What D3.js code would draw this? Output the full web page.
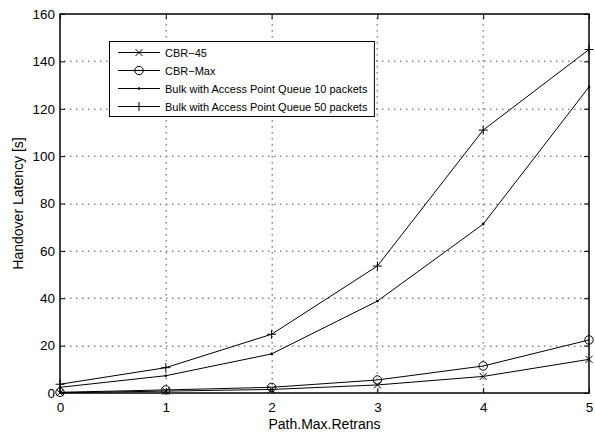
<!DOCTYPE html>
<html>
<head>
<meta charset="utf-8">
<script src="https://cdn.jsdelivr.net/npm/d3@7"></script>
<style>
  body { margin: 0; background: white; }
  text { font-family: "Liberation Sans", Arial, sans-serif; }
</style>
</head>
<body>
<div id="vizContainer"></div>
<script>
let w = 595;
let h = 433;

// data
let retrans = [0, 1, 2, 3, 4, 5];
let cbr45 = [0.1, 0.8, 1.5, 3.4, 7.0, 14.2];
let cbrMax = [0.3, 1.3, 2.4, 5.5, 11.4, 22.4];
let bulk10 = [2.4, 7.3, 16.5, 38.8, 71.3, 129.2];
let bulk50 = [3.7, 10.7, 24.8, 53.6, 111, 145];
let xTicks = [0, 1, 2, 3, 4, 5];
let yTicks = [0, 20, 40, 60, 80, 100, 120, 140, 160];

let seriesNames = ["CBR\u221245", "CBR\u2212Max", "Bulk with Access Point Queue 10 packets", "Bulk with Access Point Queue 50 packets"];
let seriesValues = [cbr45, cbrMax, bulk10, bulk50];
let seriesMarkers = ["x", "o", "dot", "plus"];

let pLeft = 60, pRight = 589, pTop = 14, pBottom = 393;

let viz = d3.select("#vizContainer").append("svg")
	.attr("width", w)
	.attr("height", h)
	.style("background-color", "white");

let xScale = d3.scaleLinear().domain([0, 5]).range([pLeft, pRight]);
let yScale = d3.scaleLinear().domain([0, 160]).range([pBottom, pTop]);

// dotted grid, drawn as separate small dots
let grid = viz.append("g").attr("class", "grid");
xTicks.slice(1, -1).forEach(function (t) {
	let x = Math.round(xScale(t));
	grid.selectAll(null).data(d3.range(pTop + 4, pBottom - 2, 6)).enter().append("rect")
		.attr("x", x - 0.5).attr("y", d => d).attr("width", 1.5).attr("height", 1.5)
		.attr("fill", "#8a8a8a");
});
yTicks.slice(1, -1).forEach(function (t) {
	let y = Math.round(yScale(t));
	grid.selectAll(null).data(d3.range(pLeft + 4, pRight - 2, 6)).enter().append("rect")
		.attr("x", d => d).attr("y", y - 0.5).attr("width", 1.5).attr("height", 1.5)
		.attr("fill", "#8a8a8a");
});

// axes with inward ticks
viz.append("g").attr("transform", "translate(0," + pBottom + ")")
	.call(d3.axisBottom(xScale).tickValues(xTicks).tickFormat(d3.format("d")).tickSizeInner(-5).tickSizeOuter(0).tickPadding(9))
	.call(g => g.select(".domain").remove());
viz.append("g").attr("transform", "translate(0," + pTop + ")")
	.call(d3.axisTop(xScale).tickValues(xTicks).tickSizeInner(-5).tickSizeOuter(0).tickFormat(""))
	.call(g => g.select(".domain").remove());
viz.append("g").attr("transform", "translate(" + pLeft + ",0)")
	.call(d3.axisLeft(yScale).tickValues(yTicks).tickSizeInner(-5).tickSizeOuter(0).tickPadding(5))
	.call(g => g.select(".domain").remove());
viz.append("g").attr("transform", "translate(" + pRight + ",0)")
	.call(d3.axisRight(yScale).tickValues(yTicks).tickSizeInner(-5).tickSizeOuter(0).tickFormat(""))
	.call(g => g.select(".domain").remove());

viz.selectAll(".tick text").attr("font-size", 13.5).attr("fill", "black")
	.attr("font-family", "Liberation Sans, Arial, sans-serif");
viz.selectAll(".tick line").attr("stroke", "black");

viz.append("rect")
	.attr("x", pLeft).attr("y", pTop)
	.attr("width", pRight - pLeft).attr("height", pBottom - pTop)
	.attr("fill", "none").attr("stroke", "black").attr("stroke-width", 1.5);

// axis labels
viz.append("text")
	.attr("x", (pLeft + pRight) / 2).attr("y", 429)
	.attr("text-anchor", "middle").attr("font-size", 14)
	.text("Path.Max.Retrans");
viz.append("text")
	.attr("transform", "translate(23," + ((pTop + pBottom) / 2) + ") rotate(-90)")
	.attr("text-anchor", "middle").attr("font-size", 14)
	.text("Handover Latency [s]");

function drawMarker(g, type, x, y) {
	if (type === "x") {
		g.append("path").attr("d", "M" + (x - 3.5) + "," + (y - 3.5) + "L" + (x + 3.5) + "," + (y + 3.5) +
			"M" + (x - 3.5) + "," + (y + 3.5) + "L" + (x + 3.5) + "," + (y - 3.5))
			.attr("stroke", "black").attr("fill", "none");
	} else if (type === "o") {
		g.append("circle").attr("cx", x).attr("cy", y).attr("r", 4.2)
			.attr("stroke", "black").attr("fill", "none");
	} else if (type === "dot") {
		g.append("circle").attr("cx", x).attr("cy", y).attr("r", 1.3).attr("fill", "black");
	} else {
		g.append("path").attr("d", "M" + (x - 4.5) + "," + y + "L" + (x + 4.5) + "," + y +
			"M" + x + "," + (y - 4.5) + "L" + x + "," + (y + 4.5))
			.attr("stroke", "black").attr("fill", "none");
	}
}

let line = d3.line().x((d, i) => xScale(retrans[i])).y(d => yScale(d));
let plot = viz.append("g").attr("class", "graphGroup");
seriesValues.forEach(function (vals, s) {
	plot.append("path").datum(vals)
		.attr("d", line)
		.attr("fill", "none").attr("stroke", "black").attr("stroke-width", 1);
	vals.forEach(function (v, i) {
		drawMarker(plot, seriesMarkers[s], xScale(retrans[i]), yScale(v));
	});
});

// legend
let lg = viz.append("g").attr("class", "legend");
let lgBox = lg.append("rect").attr("x", 109.5).attr("y", 41.5).attr("height", 75)
	.attr("fill", "white").attr("stroke", "black").attr("stroke-width", 1);
let maxLen = 0;
seriesNames.forEach(function (name, i) {
	let y = 52.5 + i * 18;
	lg.append("line").attr("x1", 118).attr("x2", 160).attr("y1", y).attr("y2", y)
		.attr("stroke", "black").attr("stroke-width", 1);
	drawMarker(lg, seriesMarkers[i], 139, y);
	let t = lg.append("text").attr("x", 165).attr("y", y + 4).attr("font-size", 11).text(name);
	maxLen = Math.max(maxLen, t.node().getComputedTextLength());
});
lgBox.attr("width", 165 + maxLen + 7 - 109.5);
</script>
</body>
</html>
